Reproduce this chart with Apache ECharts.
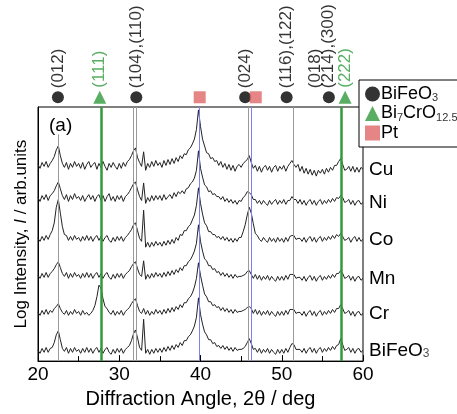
<!DOCTYPE html>
<html>
<head>
<meta charset="utf-8">
<script src="https://cdn.jsdelivr.net/npm/echarts@6/dist/echarts.min.js"></script>
<style>
  html, body { margin: 0; padding: 0; background: #fff; }
  #chart { width: 457px; height: 414px; }
</style>
</head>
<body>
<div id="chart"></div>
<script>
// scans are sampled every 0.25 deg from 20 to 60 (161 points), log intensity in arb. units
const angleStart = 20;
const angleStep = 0.25;

const cuScan = [
  202,198,204,200,205,199,203,206,210,217,221,211,203,199,204,197,203,199,205,200,
  203,198,204,197,202,205,199,202,204,197,203,199,205,200,196,203,199,204,200,197,
  203,198,204,200,205,207,211,216,219,209,204,200,215,196,203,199,205,200,206,201,
  204,199,206,201,207,202,208,203,209,205,211,208,213,212,217,219,223,228,238,258,
  241,228,221,214,213,208,209,205,206,201,205,199,203,197,202,196,201,195,200,202,
  199,203,205,207,211,204,198,201,195,200,194,199,201,196,200,194,199,201,195,200,
  197,201,195,200,203,206,202,199,202,195,200,193,198,192,197,191,196,190,196,193,
  197,192,198,194,199,196,201,201,205,208,202,196,197,200,195,200,194,199,194,199,197
];
const niScan = [
  168,164,170,166,171,165,170,172,175,180,184,177,170,166,171,164,170,166,172,167,
  169,165,170,164,168,171,166,170,164,169,171,165,170,164,169,172,165,169,164,170,
  166,170,164,169,171,174,178,182,184,176,169,165,183,162,168,164,170,165,170,166,
  170,165,171,166,169,171,167,173,169,174,172,175,172,177,178,182,184,188,196,216,
  198,189,181,179,174,175,171,172,169,169,166,169,164,167,163,166,162,165,161,165,
  164,168,170,174,173,171,166,166,162,165,161,165,162,160,165,161,164,166,161,165,
  162,166,161,165,165,169,166,166,162,166,161,165,160,164,166,161,165,160,164,166,
  161,165,162,166,163,167,164,168,167,170,168,163,164,166,161,165,160,164,165,161,163
];
const coScan = [
  126,123,128,124,129,125,130,134,142,158,166,152,138,130,129,124,128,124,129,125,
  127,123,128,124,129,124,128,123,127,129,124,128,123,127,129,124,122,127,123,128,
  124,128,123,127,129,132,135,140,142,134,126,123,155,117,122,117,122,118,123,119,
  122,118,123,119,124,120,125,121,127,124,130,129,134,134,138,140,145,150,160,178,
  162,151,142,139,133,133,130,130,127,128,125,128,124,127,123,126,122,126,123,127,
  127,133,140,150,158,152,141,131,129,125,123,127,124,122,127,123,126,122,127,123,
  126,122,127,123,128,129,129,125,126,126,123,127,122,126,128,123,127,122,126,128,
  123,127,124,128,125,129,126,130,128,131,128,124,125,127,122,126,128,123,127,123,125
];
const mnScan = [
  88,85,90,86,91,86,90,92,95,99,102,96,90,87,91,85,90,86,91,87,
  89,85,90,86,91,86,90,85,89,91,86,90,85,89,91,86,84,89,85,90,
  86,90,85,89,91,93,97,100,102,95,89,87,103,84,89,85,90,86,91,87,
  90,86,91,87,92,88,93,89,94,91,96,93,98,98,102,104,108,113,121,140,
  123,113,105,103,98,98,94,95,91,92,88,91,87,90,86,89,85,89,86,87,
  87,88,89,92,93,89,85,89,84,88,83,87,84,88,83,87,84,82,87,83,
  87,83,88,84,89,89,89,85,86,86,83,87,82,86,88,83,87,82,86,88,
  83,87,84,88,85,89,86,90,90,93,90,85,86,88,83,87,82,86,87,83,85
];
const crScan = [
  50,47,52,48,53,48,52,50,54,56,59,54,50,48,52,47,51,48,53,49,
  51,47,52,48,50,47,49,52,57,66,78,75,64,56,54,50,48,52,47,51,
  48,52,47,51,53,55,59,62,64,57,51,49,54,48,52,47,51,48,53,49,
  52,48,53,49,54,50,55,51,56,53,58,55,60,60,64,66,70,76,85,101,
  88,78,69,66,61,61,57,58,55,56,52,55,51,54,50,53,49,53,50,51,
  51,52,53,55,56,54,49,53,48,52,47,51,48,52,47,51,48,46,51,47,
  51,47,52,48,53,53,53,49,50,50,47,51,46,50,52,47,51,46,50,52,
  47,51,48,52,49,53,50,54,54,58,54,49,50,52,47,51,46,50,51,47,49
];
const bfoScan = [
  11,8,13,9,14,9,13,14,19,27,31,22,13,10,14,8,13,9,14,10,
  12,8,13,9,14,9,13,8,12,14,9,13,8,12,14,9,7,12,8,13,
  9,13,8,12,14,16,21,28,32,24,14,11,43,8,12,7,12,8,13,9,
  13,9,14,10,15,11,16,12,17,14,19,16,21,21,25,27,31,36,45,65,
  48,38,30,27,22,22,18,19,15,16,13,16,12,15,11,14,10,14,11,12,
  12,13,15,19,23,18,12,13,9,13,8,12,9,13,8,12,9,7,12,8,
  12,8,13,9,14,18,17,12,12,12,9,13,8,12,14,9,13,8,12,14,
  9,13,10,14,11,15,12,16,17,23,17,11,12,14,9,13,8,12,13,9,11
];

const traceNames = ['Cu', 'Ni', 'Co', 'Mn', 'Cr', 'BiFeO3 film'];
const traceLabels = ['Cu', 'Ni', 'Co', 'Mn', 'Cr', '{m|BiFeO}{s|3}'];
const traces = [cuScan, niScan, coScan, mnScan, crScan, bfoScan];

// reference positions (deg)
const grayLines = [22.45, 31.75, 32.05, 45.85, 51.4];
const grayLineTops = [233, 261, 261, 261, 261];
const greenLines = [27.75, 57.3];
const blueLines = [39.8, 46.3];

// marker row above the frame
const markerLevel = 271;
const bfoPeaks = [22.45, 32.1, 45.5, 50.6, 55.8];
const bfoIndex = ['(012)', '(104),(110)', '(024)', '(116),(122)', '(018)\n(214),(300)'];
const bcoPeaks = [27.6, 57.8];
const bcoIndex = ['(111)', '(222)'];
const ptPeaks = [39.9, 46.8];

const legendText = {
  'BiFeO3': '{m|BiFeO}{s|3}',
  'Bi7CrO12.5': '{m|Bi}{s|7}{m|CrO}{s|12.5}',
  'Pt': '{m|Pt}'
};

const FONT = 'Liberation Sans, Arial, sans-serif';
const GREEN = '#2f9a3c';

const chart = echarts.init(document.getElementById('chart'), null, {renderer: 'canvas'});

const subRich = {
  m: {fontSize: 18, fontFamily: FONT, color: '#000', lineHeight: 19},
  s: {fontSize: 11, fontFamily: FONT, color: '#333', verticalAlign: 'bottom', lineHeight: 11}
};

function markerLabel(color) {
  return {
    show: true,
    position: 'top',
    distance: 3,
    rotate: 90,
    align: 'left',
    verticalAlign: 'middle',
    fontSize: 17,
    lineHeight: 13,
    fontFamily: FONT,
    color: color
  };
}

const series = [];

series.push({
  name: 'refs',
  type: 'line',
  data: [],
  z: 1,
  silent: true,
  markLine: {
    symbol: 'none',
    silent: true,
    animation: false,
    label: {show: false},
    data: []
      .concat(grayLines.map((x, i) => [
        {coord: [x, 0], lineStyle: {color: '#9a9a9a', width: 1, type: 'solid'}},
        {coord: [x, grayLineTops[i]]}
      ]))
      .concat(greenLines.map(x => [
        {coord: [x, 0], lineStyle: {color: GREEN, width: 2.5, type: 'solid'}},
        {coord: [x, 261]}
      ]))
      .concat(blueLines.map(x => [
        {coord: [x, 0], lineStyle: {color: '#7f7ff0', width: 1, type: 'solid'}},
        {coord: [x, 261]}
      ]))
  }
});

traces.forEach((scan, k) => {
  series.push({
    name: traceNames[k],
    type: 'line',
    z: 3,
    showSymbol: false,
    symbol: 'none',
    data: scan.map((v, i) => [angleStart + i * angleStep, v]),
    lineStyle: {color: '#222', width: 1},
    endLabel: {
      show: true,
      distance: 6,
      formatter: () => traceLabels[k],
      fontSize: 19,
      fontFamily: FONT,
      color: '#000',
      rich: {
        m: {fontSize: 19, fontFamily: FONT, color: '#000', lineHeight: 19},
        s: {fontSize: 12, fontFamily: FONT, color: '#555', verticalAlign: 'bottom', lineHeight: 11}
      }
    }
  });
});

series.push({
  name: 'BiFeO3',
  type: 'scatter',
  clip: false,
  z: 5,
  symbol: 'circle',
  symbolSize: 12,
  itemStyle: {color: '#000'},
  label: Object.assign(markerLabel('#000'), {formatter: p => bfoIndex[p.dataIndex]}),
  // the last (two-line) label is pushed left, off the (222) label
  data: bfoPeaks.map((x, i) => (i === 4
    ? {value: [x, markerLevel], label: {offset: [0, -7]}}
    : [x, markerLevel]))
});
series.push({
  name: 'Bi7CrO12.5',
  type: 'scatter',
  clip: false,
  z: 5,
  symbol: 'triangle',
  symbolSize: 13,
  itemStyle: {color: GREEN},
  label: Object.assign(markerLabel(GREEN), {formatter: p => bcoIndex[p.dataIndex]}),
  data: bcoPeaks.map(x => [x, markerLevel])
});
series.push({
  name: 'Pt',
  type: 'scatter',
  clip: false,
  z: 5,
  symbol: 'rect',
  symbolSize: 12,
  itemStyle: {color: '#e06666'},
  data: ptPeaks.map(x => [x, markerLevel])
});

chart.setOption({
  animation: false,
  backgroundColor: '#fff',
  title: {
    text: '(a)',
    left: 44,
    top: 111,
    textStyle: {fontSize: 19, fontWeight: 'normal', fontFamily: FONT, color: '#000'}
  },
  legend: {
    data: ['BiFeO3', 'Bi7CrO12.5', 'Pt'],
    orient: 'vertical',
    left: 359,
    top: 80,
    z: 10,
    padding: [5, 6, 5, 6],
    itemGap: 1,
    itemWidth: 15,
    itemHeight: 15,
    backgroundColor: '#fff',
    borderColor: '#000',
    borderWidth: 1,
    formatter: name => legendText[name],
    textStyle: {fontSize: 18, fontFamily: FONT, color: '#000', padding: [0, 0, 0, -4], rich: subRich}
  },
  grid: {
    left: 38,
    right: 94,
    top: 107,
    bottom: 46,
    show: true,
    borderColor: '#000',
    borderWidth: 1,
    backgroundColor: 'transparent'
  },
  xAxis: {
    type: 'value',
    min: 20,
    max: 60,
    interval: 10,
    name: 'Diffraction Angle, 2θ / deg',
    nameLocation: 'middle',
    nameGap: 26,
    nameTextStyle: {fontSize: 20, fontFamily: FONT, color: '#000'},
    axisLine: {show: true, lineStyle: {color: '#000', width: 1}},
    axisTick: {show: true, inside: true, length: 6, lineStyle: {color: '#000'}},
    minorTick: {show: true, splitNumber: 2, length: 5, lineStyle: {color: '#000'}},
    axisLabel: {fontSize: 19, fontFamily: FONT, color: '#000', margin: 4},
    splitLine: {show: false}
  },
  yAxis: {
    type: 'value',
    min: 0,
    max: 261,
    name: '{n|Log Intensity, }{i|I}{n| / arb.units}',
    nameLocation: 'middle',
    nameGap: 8,
    nameTextStyle: {
      rich: {
        n: {fontSize: 17, fontFamily: FONT, color: '#000'},
        i: {fontSize: 17, fontFamily: FONT, color: '#000', fontStyle: 'italic'}
      }
    },
    axisLine: {show: true, lineStyle: {color: '#000', width: 1}},
    axisTick: {show: false},
    axisLabel: {show: false},
    splitLine: {show: false}
  },
  series: series
});
</script>
</body>
</html>
